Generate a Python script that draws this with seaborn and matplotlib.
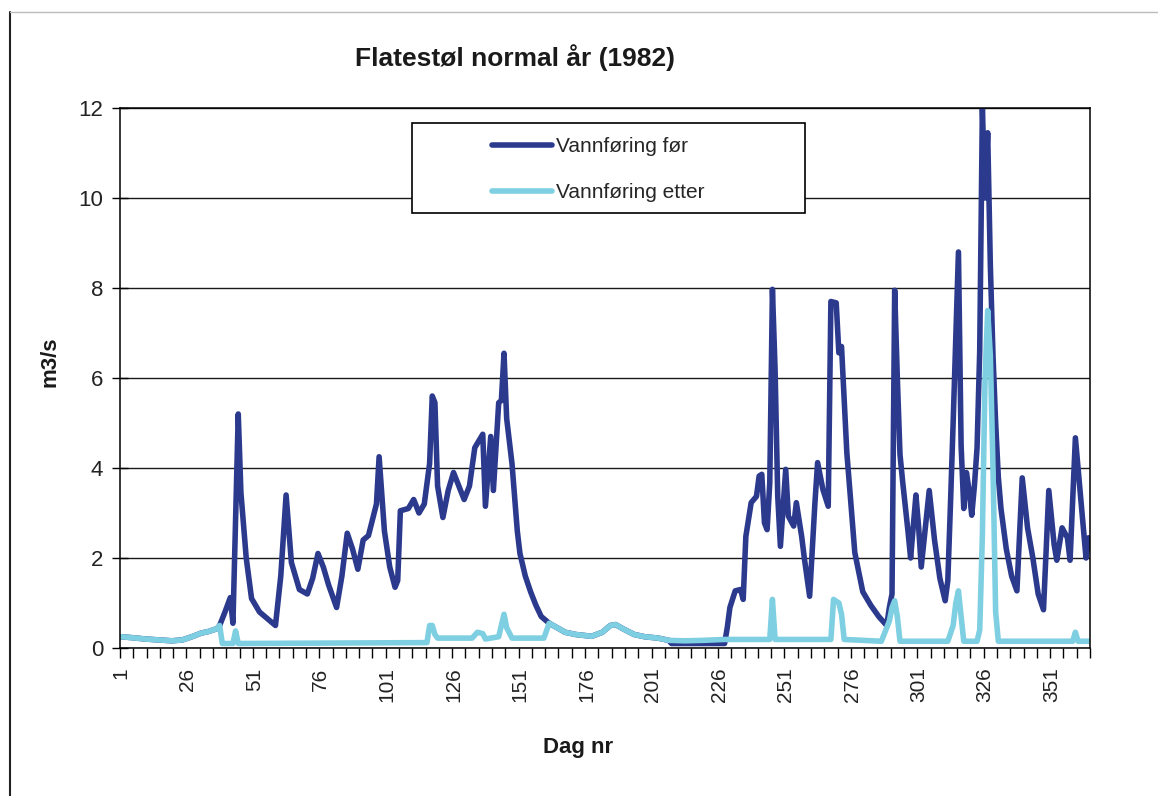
import pandas as pd
import matplotlib.pyplot as plt
from matplotlib.lines import Line2D
from matplotlib.patches import Rectangle
import seaborn as sns

# Vannføring før (m3/s)
days_for = [1, 5, 10, 15, 20, 24, 28, 31, 34, 37, 38, 40, 42, 43, 45, 46, 48, 50, 53, 56,
            59, 61, 63, 65, 68, 71, 73, 75, 77, 79, 82, 84, 86, 88, 90, 92, 94, 97, 98, 100,
            102, 104, 105, 106, 109, 111, 113, 115, 117, 118, 119, 120, 122, 124, 126, 128, 130, 132, 134, 137,
            138, 140, 141, 143, 144, 145, 146, 148, 150, 151, 153, 155, 157, 159, 162, 165, 168, 172, 178, 182,
            185, 187, 190, 194, 198, 203, 207, 208, 228, 229, 230, 232, 234, 235, 236, 238, 240, 241, 242, 243,
            244, 245, 246, 247, 248, 249, 251, 252, 254, 255, 257, 258, 260, 262, 263, 265, 267, 268, 270, 271,
            272, 274, 277, 280, 283, 286, 289, 290, 291, 292, 293, 294, 295, 297, 298, 300, 301, 302, 305, 307,
            309, 311, 312, 313, 314, 316, 317, 318, 319, 320, 321, 322, 323, 324, 325, 326, 327, 328, 329, 330,
            331, 332, 334, 336, 338, 340, 342, 344, 346, 348, 350, 352, 353, 355, 357, 358, 360, 362, 364, 365]
flow_for = [0.25, 0.23, 0.2, 0.18, 0.16, 0.18, 0.26, 0.33, 0.37, 0.43, 0.5, 0.8, 1.12, 0.55, 5.2, 3.45, 2.0, 1.1, 0.8, 0.65,
            0.5, 1.6, 3.4, 1.9, 1.3, 1.2, 1.55, 2.1, 1.8, 1.4, 0.9, 1.6, 2.55, 2.2, 1.75, 2.4, 2.5, 3.2, 4.25, 2.6,
            1.8, 1.35, 1.5, 3.05, 3.1, 3.3, 3.0, 3.2, 4.1, 5.6, 5.45, 3.6, 2.9, 3.5, 3.9, 3.6, 3.3, 3.6, 4.45, 4.75,
            3.15, 4.7, 3.5, 5.45, 5.5, 6.55, 5.1, 4.1, 2.6, 2.1, 1.6, 1.25, 0.95, 0.7, 0.55, 0.45, 0.35, 0.3, 0.26, 0.35,
            0.5, 0.52, 0.42, 0.3, 0.25, 0.22, 0.17, 0.1, 0.1, 0.45, 0.9, 1.27, 1.3, 1.08, 2.48, 3.23, 3.37, 3.82, 3.86, 2.78,
            2.63, 3.67, 7.97, 6.19, 3.37, 2.26, 3.97, 2.93, 2.71, 3.23, 2.48, 2.0, 1.15, 3.23, 4.12, 3.52, 3.15, 7.7, 7.67, 6.56,
            6.7, 4.34, 2.12, 1.25, 0.95, 0.7, 0.5, 0.9, 1.2, 7.95, 6.0, 4.3, 3.7, 2.6, 2.0, 3.4, 2.7, 1.8, 3.5, 2.4,
            1.55, 1.05, 1.5, 3.2, 5.0, 8.8, 4.5, 3.1, 3.9, 3.5, 2.95, 3.6, 4.45, 6.6, 12.0, 10.0, 11.45, 8.5, 6.5, 5.0,
            3.8, 3.1, 2.2, 1.6, 1.27, 3.78, 2.67, 2.0, 1.2, 0.85, 3.5, 2.3, 1.95, 2.67, 2.45, 1.95, 4.67, 3.34, 2.0, 2.45]

# Vannføring etter (m3/s)
days_etter = [1, 5, 10, 15, 20, 24, 28, 31, 34, 37, 38, 39, 43, 44, 45, 116, 117, 118, 119, 120,
              133, 135, 137, 138, 143, 145, 146, 148, 160, 162, 165, 168, 172, 178, 182, 185, 187, 190, 194, 198,
              203, 207, 213, 220, 228, 245, 246, 247, 268, 269, 271, 272, 273, 287, 289, 290, 291, 292, 293, 294,
              312, 314, 315, 316, 317, 318, 323, 324, 325, 326, 327, 328, 329, 330, 331, 359, 360, 361, 365]
flow_etter = [0.25, 0.23, 0.2, 0.18, 0.16, 0.18, 0.26, 0.33, 0.37, 0.43, 0.5, 0.1, 0.1, 0.38, 0.1, 0.12, 0.5, 0.5, 0.3, 0.22,
              0.22, 0.35, 0.32, 0.2, 0.25, 0.75, 0.45, 0.22, 0.22, 0.55, 0.45, 0.35, 0.3, 0.26, 0.35, 0.5, 0.52, 0.42, 0.3, 0.25,
              0.22, 0.17, 0.16, 0.17, 0.19, 0.19, 1.08, 0.19, 0.19, 1.08, 1.0, 0.75, 0.19, 0.15, 0.45, 0.6, 0.9, 1.05, 0.7, 0.15,
              0.15, 0.5, 1.0, 1.27, 0.7, 0.15, 0.15, 0.4, 2.5, 6.0, 7.5, 6.5, 4.0, 0.8, 0.15, 0.15, 0.35, 0.15, 0.15]

series = ['Vannføring før', 'Vannføring etter']
colors = {'Vannføring før': '#2c3a8e', 'Vannføring etter': '#7dcfe1'}

df = pd.concat([
    pd.DataFrame({'Dag': days_for, 'Q': flow_for, 'Serie': series[0]}),
    pd.DataFrame({'Dag': days_etter, 'Q': flow_etter, 'Serie': series[1]}),
], ignore_index=True)

sns.set_style('white')
plt.rcParams['font.family'] = ['Liberation Sans', 'DejaVu Sans']

W, H = 1158, 796
fig = plt.figure(figsize=(W / 100, H / 100), dpi=100)
ax = fig.add_axes([120 / W, 1 - 648 / H, 970 / W, 540 / H])

sns.lineplot(data=df, x='Dag', y='Q', hue='Serie', hue_order=series, palette=colors,
             estimator=None, linewidth=4.0, legend=False, ax=ax,
             solid_joinstyle='round', solid_capstyle='round')

ax.set_xlim(0.5, 365.5)
ax.set_ylim(0, 12)
ax.set_xlabel('')
ax.set_ylabel('')

# x: etiketter hver 25. dag, tikkmerker hver 5. dag
ax.set_xticks(list(range(1, 352, 25)))
ax.set_xticklabels([str(d) for d in range(1, 352, 25)], rotation=90, fontsize=15, color='#222222')
ax.set_xticks([0.5 + 5 * k for k in range(74)], minor=True)
ax.tick_params(axis='x', which='major', length=0, pad=14)
ax.tick_params(axis='x', which='minor', length=7, width=1, direction='out', color='black', bottom=True)

ax.set_yticks(range(0, 13, 2))
ax.tick_params(axis='y', which='major', length=12, width=1, direction='inout', color='black',
               labelsize=16, pad=6, left=True, labelcolor='#222222')

ax.yaxis.grid(True, color='#1a1a1a', linewidth=1.0)
ax.xaxis.grid(False)
ax.set_axisbelow(True)
for s in ax.spines.values():
    s.set_color('black')
    s.set_linewidth(1.1)

fig.text(515 / W, 1 - 58 / H, 'Flatestøl normal år (1982)', fontsize=19, fontweight='bold',
         ha='center', va='center', color='#1a1a1a')
fig.text(50 / W, 1 - 362 / H, 'm3/s', fontsize=16, fontweight='bold', rotation=90,
         ha='center', va='center', color='#1a1a1a')
fig.text(578 / W, 1 - 748 / H, 'Dag nr', fontsize=16, fontweight='bold',
         ha='center', va='center', color='#1a1a1a')

# legendeboks
fig.add_artist(Rectangle((412 / W, 1 - 213 / H), 393 / W, 90 / H, transform=fig.transFigure,
                         facecolor='white', edgecolor='black', linewidth=1.2, zorder=3))
handles = [Line2D([], [], color=colors[s], linewidth=4.0) for s in series]
fig.legend(handles, series, loc='upper left', bbox_to_anchor=(492 / W, 1 - 137 / H),
           bbox_transform=fig.transFigure, frameon=False, fontsize=15, handlelength=2.9,
           handletextpad=0.15, labelspacing=1.3, borderpad=0, borderaxespad=0)

# ytre ramme rundt diagrammet
fig.add_artist(Line2D([10 / W, 10 / W], [0, 1 - 12 / H], transform=fig.transFigure,
                      color='#222222', linewidth=1.5))
fig.add_artist(Line2D([10 / W, 1], [1 - 12 / H, 1 - 12 / H], transform=fig.transFigure,
                      color='#bbbbbb', linewidth=1.0))

fig.savefig('out.png', dpi=100)
